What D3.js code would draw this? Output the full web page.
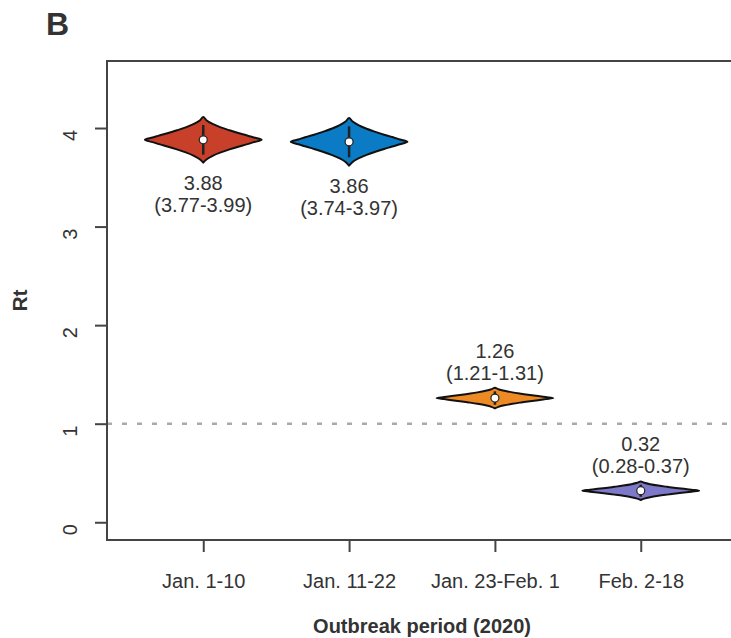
<!DOCTYPE html>
<html>
<head>
<meta charset="utf-8">
<script src="https://cdn.jsdelivr.net/npm/d3@7"></script>
<style>
  body { margin: 0; background: #fff; }
  text { font-family: "Liberation Sans", Arial, sans-serif; fill: #333; }
</style>
</head>
<body>
<div id="chart"></div>
<script>
// periods and Rt estimates (median, 95% CI)
const periods = ['Jan. 1-10', 'Jan. 11-22', 'Jan. 23-Feb. 1', 'Feb. 2-18'];
const rtMedian = [3.88, 3.86, 1.26, 0.32];
const rtLow = [3.77, 3.74, 1.21, 0.28];
const rtHigh = [3.99, 3.97, 1.31, 0.37];
const colors = ['#C8402A', '#0B7BC6', '#EE8A24', '#7E78C9'];
const yTicks = [0, 1, 2, 3, 4];

// violin outline: relative height (0 = median, 1 = tip) vs relative width
const profileZ = [0, 0.1, 0.2, 0.3, 0.42, 0.55, 0.7, 0.85, 1];
const profileW = [1, 0.87, 0.74, 0.6, 0.45, 0.3, 0.16, 0.06, 0];

const width = 731, height = 638;
const margin = { top: 61, left: 107, bottom: 540, right: 737 };

const svg = d3.select('#chart').append('svg')
  .attr('width', width)
  .attr('height', height);

const x = d3.scaleLinear().domain([0.34, 4.66]).range([margin.left, margin.right]);
const y = d3.scaleLinear().domain([-0.18, 4.68]).range([margin.bottom, margin.top]);

// reference line at Rt = 1
svg.append('line')
  .attr('x1', margin.left).attr('x2', margin.right)
  .attr('y1', y(1)).attr('y2', y(1))
  .attr('stroke', '#aaa').attr('stroke-width', 2.5)
  .attr('stroke-dasharray', '5,10');

// box
svg.append('rect')
  .attr('x', margin.left).attr('y', margin.top)
  .attr('width', margin.right - margin.left)
  .attr('height', margin.bottom - margin.top)
  .attr('fill', 'none').attr('stroke', '#444').attr('stroke-width', 2);

// axes
const xAxis = svg.append('g')
  .attr('transform', 'translate(0,' + margin.bottom + ')')
  .call(d3.axisBottom(x).tickValues([1, 2, 3, 4])
    .tickFormat((d) => periods[d - 1]).tickSizeInner(12).tickSizeOuter(0));
xAxis.select('.domain').remove();
xAxis.selectAll('line').attr('stroke', '#444').attr('stroke-width', 2);
xAxis.selectAll('text').attr('y', 48).attr('dy', 0)
  .style('font-size', '20px').style('font-family', '"Liberation Sans", Arial, sans-serif').attr('fill', '#333');

const yAxis = svg.append('g')
  .attr('transform', 'translate(' + margin.left + ',0)')
  .call(d3.axisLeft(y).tickValues(yTicks).tickFormat(d3.format('d')).tickSizeInner(12).tickSizeOuter(0));
yAxis.select('.domain').remove();
yAxis.selectAll('line').attr('stroke', '#444').attr('stroke-width', 2);
yAxis.selectAll('text')
  .attr('x', 0).attr('y', 0).attr('dy', 0)
  .attr('text-anchor', 'middle')
  .attr('transform', 'translate(-30,7) rotate(-90)')
  .style('font-size', '20px').style('font-family', '"Liberation Sans", Arial, sans-serif').attr('fill', '#333');

// violins
const line = d3.line().curve(d3.curveCatmullRomClosed);
const halfW = x(1.4) - x(1);

periods.forEach((p, i) => {
  const cx = x(i + 1);
  const ext = 1.05 * (rtHigh[i] - rtLow[i]);
  const pts = [];
  for (let k = profileZ.length - 1; k >= 0; k--) {
    pts.push([cx + profileW[k] * halfW, y(rtMedian[i] + profileZ[k] * ext)]);
  }
  for (let k = 1; k < profileZ.length; k++) {
    pts.push([cx + profileW[k] * halfW, y(rtMedian[i] - profileZ[k] * ext)]);
  }
  for (let k = profileZ.length - 1; k >= 1; k--) {
    pts.push([cx - profileW[k] * halfW, y(rtMedian[i] - profileZ[k] * ext)]);
  }
  for (let k = 0; k < profileZ.length - 1; k++) {
    pts.push([cx - profileW[k] * halfW, y(rtMedian[i] + profileZ[k] * ext)]);
  }
  svg.append('path')
    .attr('d', line(pts))
    .attr('fill', colors[i])
    .attr('stroke', '#111').attr('stroke-width', 2)
    .attr('stroke-linejoin', 'round');

  // inner bar spans roughly the middle part of the violin
  svg.append('line')
    .attr('x1', cx).attr('x2', cx)
    .attr('y1', y(rtMedian[i] - 0.65 * ext)).attr('y2', y(rtMedian[i] + 0.65 * ext))
    .attr('stroke', '#222').attr('stroke-width', 2.5);
  svg.append('circle')
    .attr('cx', cx).attr('cy', y(rtMedian[i])).attr('r', 4)
    .attr('fill', '#fff').attr('stroke', '#222').attr('stroke-width', 1.2);

  // labels: below the violin for high values, above for low ones
  const below = rtMedian[i] > 2;
  const y1 = below ? y(rtMedian[i] - ext) + 27 : y(rtMedian[i] + ext) - 30;
  svg.append('text')
    .attr('x', cx).attr('y', y1)
    .attr('text-anchor', 'middle').style('font-size', '20px')
    .text(rtMedian[i].toFixed(2));
  svg.append('text')
    .attr('x', cx).attr('y', y1 + 22)
    .attr('text-anchor', 'middle').style('font-size', '20px')
    .text('(' + rtLow[i].toFixed(2) + '-' + rtHigh[i].toFixed(2) + ')');
});

// titles
svg.append('text')
  .attr('x', 46).attr('y', 35)
  .style('font-size', '32px').style('font-weight', 'bold').attr('fill', '#111')
  .text('B');

svg.append('text')
  .attr('transform', 'translate(27,' + ((margin.top + margin.bottom) / 2) + ') rotate(-90)')
  .attr('text-anchor', 'middle')
  .style('font-size', '21px').style('font-weight', 'bold').attr('fill', '#222')
  .text('Rt');

svg.append('text')
  .attr('x', (margin.left + margin.right) / 2).attr('y', 633)
  .attr('text-anchor', 'middle')
  .style('font-size', '20px').style('font-weight', 'bold').attr('fill', '#222')
  .text('Outbreak period (2020)');
</script>
</body>
</html>
